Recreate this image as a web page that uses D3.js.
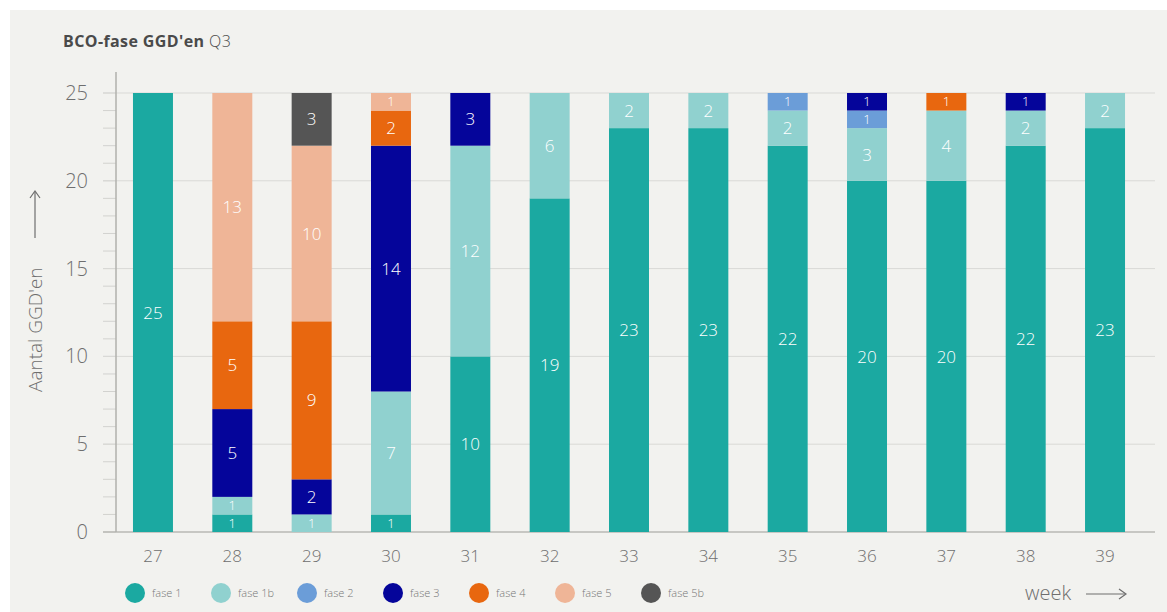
<!DOCTYPE html>
<html>
<head>
	<title>BCO-fase GGD'en Q3</title>
	<meta charset="utf-8">
	<script src="https://cdn.jsdelivr.net/npm/d3@7/dist/d3.min.js"></script>
	<style>
		body { margin:0; background:#fff; }
		#chart { width:1167px; height:612px; }
		text { font-family:"Open Sans", "Lato", sans-serif; }
	</style>
</head>
<body>
	<div id="chart"></div>
	<script>
		// weeks on the x axis
		var weeks = ["27", "28", "29", "30", "31", "32", "33", "34", "35", "36", "37", "38", "39"];
		var phases = ["fase 1", "fase 1b", "fase 2", "fase 3", "fase 4", "fase 5", "fase 5b"];
		var colors = ["#1ba9a1", "#90d1cf", "#6b9dd8", "#05059a", "#e8670f", "#efb597", "#555555"];

		// number of GGD's per phase, one value per week
		var fase1  = [25, 1, 0, 1, 10, 19, 23, 23, 22, 20, 20, 22, 23];
		var fase1b = [0, 1, 1, 7, 12, 6, 2, 2, 2, 3, 4, 2, 2];
		var fase2  = [0, 0, 0, 0, 0, 0, 0, 0, 1, 1, 0, 0, 0];
		var fase3  = [0, 5, 2, 14, 3, 0, 0, 0, 0, 1, 0, 1, 0];
		var fase4  = [0, 5, 9, 2, 0, 0, 0, 0, 0, 0, 1, 0, 0];
		var fase5  = [0, 13, 10, 1, 0, 0, 0, 0, 0, 0, 0, 0, 0];
		var fase5b = [0, 0, 3, 0, 0, 0, 0, 0, 0, 0, 0, 0, 0];
		var yTicks = [0, 5, 10, 15, 20, 25];

		var series = [fase1, fase1b, fase2, fase3, fase4, fase5, fase5b];
		var table = weeks.map(function(w, i) {
			var row = { week: w };
			phases.forEach(function(p, j) { row[p] = series[j][i]; });
			return row;
		});

		var W = 1167, H = 612;
		var svg = d3.select('#chart')
			.append('svg')
			.attr('width', W)
			.attr('height', H);

		// grey panel
		svg.append('rect')
			.attr('x', 10).attr('y', 10)
			.attr('width', W - 10).attr('height', H - 10)
			.attr('fill', '#f2f2ef');

		var x = d3.scaleBand()
			.domain(weeks)
			.range([116, 1142])
			.paddingInner(0.496)
			.paddingOuter(0.214);

		var y = d3.scaleLinear()
			.domain([0, 25])
			.range([532, 93]);

		// minor ticks
		svg.append('g').selectAll('line')
			.data(d3.range(0, 26))
			.enter().append('line')
			.attr('x1', 103).attr('x2', 116)
			.attr('y1', function(d) { return y(d); })
			.attr('y2', function(d) { return y(d); })
			.attr('stroke', '#d2d2cf')
			.attr('stroke-width', 1);

		// grid lines
		svg.append('g').selectAll('line')
			.data(yTicks)
			.enter().append('line')
			.attr('x1', 103).attr('x2', 1155)
			.attr('y1', function(d) { return y(d); })
			.attr('y2', function(d) { return y(d); })
			.attr('stroke', function(d) { return d === 0 ? '#b8b8b5' : '#d9d9d6'; })
			.attr('stroke-width', function(d) { return d === 0 ? 1.5 : 1; });

		// y axis line
		svg.append('line')
			.attr('x1', 116).attr('x2', 116)
			.attr('y1', 72).attr('y2', 532)
			.attr('stroke', '#b0b0ad')
			.attr('stroke-width', 1.5);

		svg.append('g').selectAll('text')
			.data(yTicks)
			.enter().append('text')
			.attr('x', 88)
			.attr('y', function(d) { return y(d); })
			.attr('dy', '0.35em')
			.attr('text-anchor', 'end')
			.attr('font-size', 20)
			.attr('font-weight', 300)
			.attr('fill', '#6e6e6e')
			.text(function(d) { return d; });

		// bars
		var stack = d3.stack().keys(phases)(table);
		var layers = svg.append('g').selectAll('g')
			.data(stack)
			.enter().append('g')
			.attr('fill', function(d, i) { return colors[i]; });

		layers.selectAll('rect')
			.data(function(d) { return d.filter(function(s) { return s[1] > s[0]; }); })
			.enter().append('rect')
			.attr('x', function(d) { return x(d.data.week); })
			.attr('width', x.bandwidth())
			.attr('y', function(d) { return y(d[1]); })
			.attr('height', function(d) { return y(d[0]) - y(d[1]); });

		layers.selectAll('text')
			.data(function(d) { return d.filter(function(s) { return s[1] > s[0]; }); })
			.enter().append('text')
			.attr('x', function(d) { return x(d.data.week) + x.bandwidth() / 2; })
			.attr('y', function(d) { return y((d[0] + d[1]) / 2); })
			.attr('dy', '0.36em')
			.attr('text-anchor', 'middle')
			.attr('font-size', function(d) { return d[1] - d[0] === 1 ? 13 : 17; })
			.attr('font-weight', 300)
			.attr('fill', '#ffffff')
			.text(function(d) { return d[1] - d[0]; });

		// x labels
		svg.append('g').selectAll('text')
			.data(weeks)
			.enter().append('text')
			.attr('x', function(d) { return x(d) + x.bandwidth() / 2; })
			.attr('y', 556)
			.attr('dy', '0.35em')
			.attr('text-anchor', 'middle')
			.attr('font-size', 17)
			.attr('font-weight', 300)
			.attr('fill', '#6e6e6e')
			.text(function(d) { return d; });

		// title
		var title = svg.append('text')
			.attr('x', 63).attr('y', 47)
			.attr('font-size', 16)
			.attr('letter-spacing', 0.4)
			.attr('fill', '#4a4a4a');
		title.append('tspan').attr('font-weight', 700).text("BCO-fase GGD'en ");
		title.append('tspan').attr('font-weight', 300).text('Q3');

		// y axis title with a long arrow
		svg.append('text')
			.attr('transform', 'translate(42,392) rotate(-90)')
			.attr('font-size', 19)
			.attr('font-weight', 300)
			.attr('fill', '#6e6e6e')
			.text("Aantal GGD'en");
		svg.append('line')
			.attr('x1', 35).attr('x2', 35)
			.attr('y1', 238).attr('y2', 192)
			.attr('stroke', '#6e6e6e')
			.attr('stroke-width', 1.2);
		svg.append('path')
			.attr('d', 'M30,198 L35,191 L40,198')
			.attr('fill', 'none')
			.attr('stroke', '#6e6e6e')
			.attr('stroke-width', 1.2);

		// legend
		var legend = svg.append('g').selectAll('g')
			.data(phases)
			.enter().append('g')
			.attr('transform', function(d, i) { return 'translate(' + (135 + i * 86) + ',593)'; });
		legend.append('circle')
			.attr('r', 10)
			.attr('fill', function(d, i) { return colors[i]; });
		legend.append('text')
			.attr('x', 17)
			.attr('dy', '0.35em')
			.attr('font-size', 11)
			.attr('font-weight', 300)
			.attr('fill', '#777')
			.text(function(d) { return d; });

		svg.append('text')
			.attr('x', 1025).attr('y', 593)
			.attr('dy', '0.35em')
			.attr('font-size', 20)
			.attr('font-weight', 300)
			.attr('fill', '#6e6e6e')
			.text('week');
		svg.append('line')
			.attr('x1', 1086).attr('x2', 1125)
			.attr('y1', 594).attr('y2', 594)
			.attr('stroke', '#6e6e6e')
			.attr('stroke-width', 1.2);
		svg.append('path')
			.attr('d', 'M1119,589 L1126,594 L1119,599')
			.attr('fill', 'none')
			.attr('stroke', '#6e6e6e')
			.attr('stroke-width', 1.2);
	</script>
</body>
</html>
